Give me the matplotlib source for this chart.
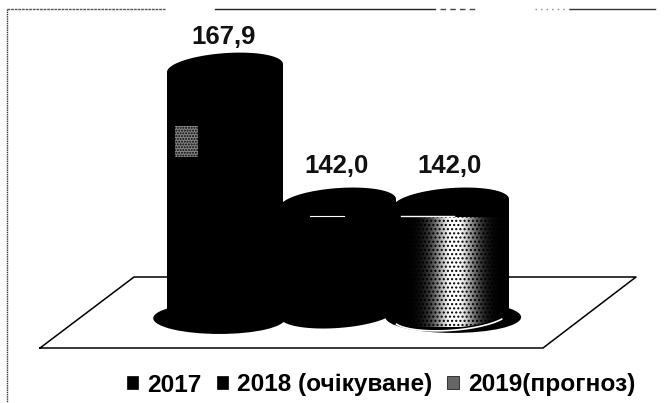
import matplotlib
matplotlib.use("Agg")
import matplotlib.pyplot as plt
import matplotlib.patches as mpatches
import numpy as np

years = ["2017", "2018 (очікуване)", "2019(прогноз)"]
values = [167.9, 142.0, 142.0]
value_labels = ["167,9", "142,0", "142,0"]

plt.rcParams["font.family"] = ["Liberation Sans", "DejaVu Sans"]

W, H = 664, 403
fig = plt.figure(figsize=(W / 100, H / 100), dpi=100, facecolor="white")

# background: frame and floor, drawn in pixel coordinates
bg = fig.add_axes([0, 0, 1, 1], zorder=0)
bg.set_xlim(0, W)
bg.set_ylim(H, 0)
bg.axis("off")
bg.plot([7, 7], [9, H], color="#333333", lw=1, ls=(0, (1, 0.6)))
bg.plot([7, 165], [9, 9], color="#555555", lw=1, ls=(0, (2, 0.6)))
bg.plot([215, 435], [9, 9], color="#222222", lw=1)
bg.plot([440, 475], [9, 9], color="#444444", lw=1, ls=(0, (4, 3)))
bg.plot([535, 570], [9, 9], color="#888888", lw=1, ls=(0, (1, 3)))
bg.plot([570, 655], [9, 9], color="#333333", lw=1)
bg.plot([40, 134, 636, 543, 40], [348, 277, 277, 348, 348], color="black", lw=1.1)

# chart axes: same canvas, y is the value scale (truncated baseline)
ax = fig.add_axes([0, 0, 1, 1], zorder=1)
ax.patch.set_alpha(0)
ax.axis("off")
px_per_val = 5.21
base_val = 120.9
base_px = 313
step = 113
first_px = 225
xlim = ((0 - first_px) / step, (W - first_px) / step)
ylim = (base_val - (H - base_px) / px_per_val, base_val + base_px / px_per_val)

half_w = 58 / step
half_h = 15 / px_per_val
tilt = 4 / px_per_val / half_w


def ellipse(xc, yc, grow=1.0):
    t = np.linspace(0, 2 * np.pi, 100)
    x = xc + half_w * grow * np.cos(t)
    y = yc + half_h * grow * np.sin(t) + tilt * (x - xc)
    return np.column_stack([x, y])


def cylinder(i, val):
    top = ellipse(i, val)
    bot = ellipse(i, base_val)
    ax.add_patch(mpatches.Polygon(bot, color="black", lw=0, zorder=3 + i))
    body = [[i - half_w, base_val - tilt * half_w], [i - half_w, val - tilt * half_w],
            [i + half_w, val + tilt * half_w], [i + half_w, base_val + tilt * half_w]]
    ax.add_patch(mpatches.Polygon(body, color="black", lw=0, zorder=3 + i))
    ax.add_patch(mpatches.Polygon(top, color="black", lw=0, zorder=3 + i))


for i, v in enumerate(values):
    # shadow on the floor
    if i == 0:
        ax.add_patch(mpatches.Ellipse((i - 0.05, base_val - 1.0), 2 * half_w * 1.14, 2 * half_h * 1.05,
                                      color="black", lw=0, zorder=2))
    if i == 2:
        ax.add_patch(mpatches.Ellipse((i + 0.02, base_val - 0.8), 2 * half_w * 1.17, 2 * half_h * 1.05,
                                      color="black", lw=0, zorder=2))
    cylinder(i, v)
    label_dy = 31 if i == 0 else 37
    ax.annotate(value_labels[i], (i - 0.01, v), xytext=(0, label_dy * 0.72), textcoords="offset points",
                ha="center", va="center", fontsize=18.5, fontweight="bold", color="#111111", zorder=10)

# light band on the third cylinder
grad = np.exp(-((np.linspace(-1, 1, 200) - 0.07) / 0.36) ** 2).reshape(1, -1)
x0, x1 = 2 - half_w, 2 + half_w
y1 = values[2] - half_h + 0.2
y0 = base_val - half_h + 0.2
im = ax.imshow(grad, extent=[x0, x1, y0, y1], cmap="gray", vmin=0, vmax=0.95, aspect="auto",
               interpolation="bilinear", zorder=6)
clip_outline = np.vstack([ellipse(2, base_val)[50:], ellipse(2, values[2])[:51]])
clip = mpatches.Polygon(clip_outline, transform=ax.transData, fc="none", ec="none")
ax.add_patch(clip)
im.set_clip_path(clip)
ax.add_patch(mpatches.Rectangle((x0, y0), x1 - x0, y1 - y0, fc="none", ec="black", lw=0,
                                hatch="....", zorder=7, clip_path=clip))
# white highlights: top rim and the ring under the third cylinder
ax.plot([1.56, 2.03], [values[2] - half_h + 0.35] * 2, color="white", lw=1, zorder=8)
ax.plot([0.75, 1.05], [values[1] - half_h + 0.35] * 2, color="white", lw=0.8, zorder=8)
ring = ellipse(2, base_val - 0.45)[55:92]
ax.plot(ring[:, 0], ring[:, 1], color="white", lw=1.2, zorder=8)

# small grey highlight on the first cylinder
ax.add_patch(mpatches.Rectangle((-0.44, 150.8), 0.2, 6.0, fc="#888888", ec="black", lw=0,
                                hatch="......", zorder=8))
ax.set_xlim(xlim)
ax.set_ylim(ylim)

handles = [mpatches.Patch(fc=c, ec="black", lw=0.5, label=y)
           for c, y in zip(["black", "black", "#666666"], years)]
leg = fig.legend(handles=handles, ncol=3, frameon=False, loc="center", bbox_to_anchor=(381 / W, 1 - 385 / H),
                 handlelength=0.46, handleheight=0.46, handletextpad=0.37, columnspacing=0.62,
                 borderpad=0, prop={"weight": "bold", "size": 17.6})

fig.savefig("out.png", dpi=100)
